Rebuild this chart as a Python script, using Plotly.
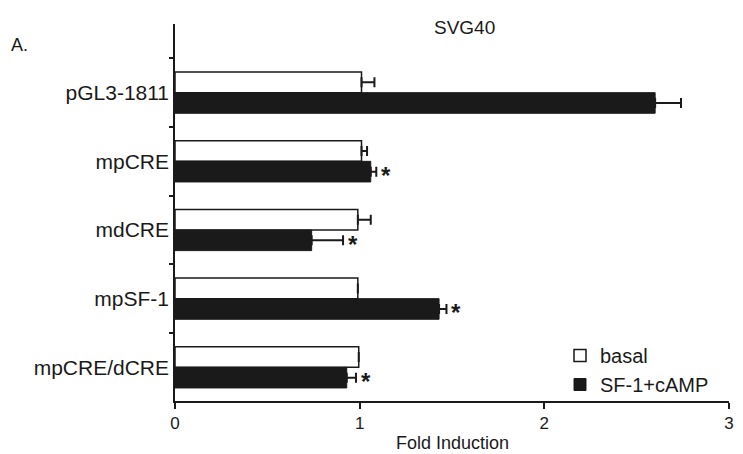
import plotly.graph_objects as go

categories = ["pGL3-1811", "mpCRE", "mdCRE", "mpSF-1", "mpCRE/dCRE"]
basal = [1.01, 1.01, 0.99, 0.99, 0.995]
basal_err = [0.07, 0.03, 0.07, 0.0, 0.0]
stim = [2.60, 1.06, 0.74, 1.43, 0.93]
stim_err = [0.14, 0.03, 0.17, 0.04, 0.05]
significant = [False, True, True, True, True]
x_ticks = [0, 1, 2, 3]

FONT = "Liberation Sans, Arial, Helvetica, sans-serif"
INK = "#1a1a1a"

# page body has an 8px default margin; layout is computed in screen pixels
OFF = 8
W, H = 743, 454
L, R, T, B = 175 - OFF, W - (729 - OFF), 24 - OFF, H - (401 - OFF)
PW, PH = W - L - R, H - T - B


def px(xs):
    return (xs - OFF - L) / PW


def py(ys):
    return (H - B - (ys - OFF)) / PH


fig = go.Figure()
fig.add_trace(go.Bar(
    name="basal", y=categories, x=basal, orientation="h",
    marker=dict(color="white", line=dict(color=INK, width=1.5)),
    error_x=dict(type="data", array=basal_err, arrayminus=[0] * len(basal),
                 symmetric=False, color=INK, thickness=2, width=5),
))
fig.add_trace(go.Bar(
    name="SF-1+cAMP", y=categories, x=stim, orientation="h",
    marker=dict(color=INK, line=dict(color=INK, width=1)),
    error_x=dict(type="data", array=stim_err, arrayminus=[0] * len(stim),
                 symmetric=False, color=INK, thickness=2, width=5),
))

annotations = []
for c, v, e, s in zip(categories, stim, stim_err, significant):
    if s:
        annotations.append(dict(x=v + e, y=c, text="<b>*</b>", showarrow=False,
                                xanchor="left", yanchor="middle", xshift=3, yshift=-14,
                                font=dict(size=24, color=INK, family=FONT)))
annotations.append(dict(x=px(464), y=py(28), xref="paper", yref="paper",
                        text="SVG40", showarrow=False, xanchor="center", yanchor="middle",
                        font=dict(size=19)))
annotations.append(dict(x=px(9), y=py(45), xref="paper", yref="paper",
                        text="A.", showarrow=False, xanchor="left", yanchor="middle",
                        font=dict(size=18)))
annotations.append(dict(x=0.5, y=py(443), xref="paper", yref="paper",
                        text="Fold Induction", showarrow=False, xanchor="center",
                        yanchor="middle", font=dict(size=18)))

fig.update_layout(
    width=W, height=H,
    margin=dict(l=L, r=R, t=T, b=B, autoexpand=False),
    paper_bgcolor="white", plot_bgcolor="white",
    barmode="group", bargap=0.40, bargroupgap=0,
    font=dict(family=FONT, size=18, color=INK),
    showlegend=True,
    legend=dict(x=px(560), y=py(336), xanchor="left", yanchor="top",
                font=dict(size=20), bgcolor="rgba(0,0,0,0)",
                traceorder="normal", itemwidth=30, tracegroupgap=0),
    xaxis=dict(range=[0, 3], tickvals=x_ticks, ticks="outside", ticklen=6,
               tickwidth=1.5, tickcolor=INK, showline=True, linecolor=INK, linewidth=1.5,
               showgrid=False, zeroline=False, tickfont=dict(size=17),
               automargin=False),
    yaxis=dict(range=[4.49, -1.0], showline=True, linecolor=INK, linewidth=1.5,
               ticks="outside", tickson="boundaries", ticklen=4, tickwidth=1.5,
               tickcolor=INK, showgrid=False, zeroline=False, tickfont=dict(size=21),
               automargin=False, ticklabelstandoff=0),
    annotations=annotations,
)

fig.write_html("out.html")
